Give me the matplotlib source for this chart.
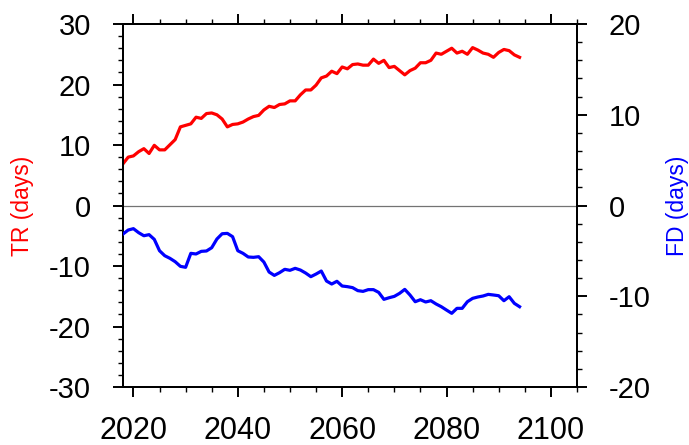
import matplotlib
matplotlib.use("Agg")
import matplotlib.pyplot as plt
from matplotlib.ticker import MultipleLocator

plt.rcParams['font.family'] = ['Liberation Sans', 'DejaVu Sans']
plt.rcParams['axes.unicode_minus'] = False

years = list(range(2018, 2095))

tr_days = [
    6.9, 8.0, 8.2, 8.9, 9.4, 8.6, 9.95, 9.2, 9.2, 10.05,
    10.9, 13.0, 13.25, 13.5, 14.6, 14.4, 15.2, 15.3, 15.0, 14.3,
    13.0, 13.4, 13.5, 13.8, 14.3, 14.7, 14.9, 15.8, 16.4, 16.2,
    16.7, 16.8, 17.3, 17.3, 18.3, 19.1, 19.1, 19.9, 21.1, 21.4,
    22.2, 21.8, 22.9, 22.6, 23.3, 23.4, 23.2, 23.2, 24.2, 23.5,
    24.0, 22.8, 23.0, 22.3, 21.6, 22.3, 22.7, 23.6, 23.6, 24.0,
    25.2, 25.0, 25.5, 26.0, 25.2, 25.5, 25.0, 26.1, 25.7, 25.2,
    25.0, 24.5, 25.3, 25.8, 25.6, 24.9, 24.5,
]

fd_days = [
    -3.14, -2.70, -2.55, -2.99, -3.33, -3.21, -3.73, -4.98, -5.53, -5.82,
    -6.19, -6.70, -6.81, -5.27, -5.34, -5.05, -5.01, -4.65, -3.69, -3.11,
    -3.07, -3.43, -4.98, -5.27, -5.67, -5.71, -5.64, -6.23, -7.33, -7.70,
    -7.40, -7.03, -7.14, -6.92, -7.11, -7.44, -7.84, -7.55, -7.22, -8.32,
    -8.65, -8.35, -8.87, -8.94, -9.05, -9.38, -9.46, -9.27, -9.27, -9.57,
    -10.34, -10.16, -10.01, -9.68, -9.24, -9.86, -10.60, -10.38, -10.63, -10.49,
    -10.85, -11.15, -11.52, -11.88, -11.33, -11.33, -10.60, -10.23, -10.08, -9.97,
    -9.79, -9.86, -9.94, -10.49, -10.05, -10.78, -11.15,
]

x_ticks = [2020, 2040, 2060, 2080, 2100]
tr_ticks = [-30, -20, -10, 0, 10, 20, 30]
fd_ticks = [-20, -10, 0, 10, 20]

fig = plt.figure(figsize=(6.89, 4.45), dpi=100)
ax = fig.add_axes([0.1785, 0.1303, 0.6589, 0.8157])
ax2 = ax.twinx()

ax.axhline(0, color='0.45', lw=0.9, zorder=1)
ax.plot(years, tr_days, color='#ff0000', lw=2.3, zorder=3)
ax2.plot(years, fd_days, color='#0000ff', lw=2.3, zorder=3)

ax.set_xlim(2018, 2105)
ax.set_ylim(-30, 30)
ax2.set_ylim(-20, 20)

ax.set_xticks(x_ticks)
ax.set_yticks(tr_ticks)
ax2.set_yticks(fd_ticks)
ax.xaxis.set_minor_locator(MultipleLocator(5))
ax.yaxis.set_minor_locator(MultipleLocator(2))
ax2.yaxis.set_minor_locator(MultipleLocator(2))

for a in (ax, ax2):
    for s in a.spines.values():
        s.set_linewidth(1.4)

ax.tick_params(axis='x', which='both', top=True, direction='out', labelsize=22, pad=14)
ax.tick_params(axis='y', which='both', right=False, direction='out', labelsize=21, pad=16)
ax2.tick_params(axis='y', which='both', direction='out', labelsize=21, pad=16)
for a in (ax, ax2):
    a.tick_params(which='major', length=7, width=1.4)
    a.tick_params(which='minor', length=3.6, width=1.0)

ax.set_ylabel('TR (days)', color='#ff0000', fontsize=16.5)
ax.yaxis.set_label_coords(-0.197, 0.5)
ax2.set_ylabel('FD (days)', color='#0000ff', fontsize=16.5, rotation=90)
ax2.yaxis.set_label_coords(1.196, 0.5)

fig.savefig('out.png', dpi=100)
